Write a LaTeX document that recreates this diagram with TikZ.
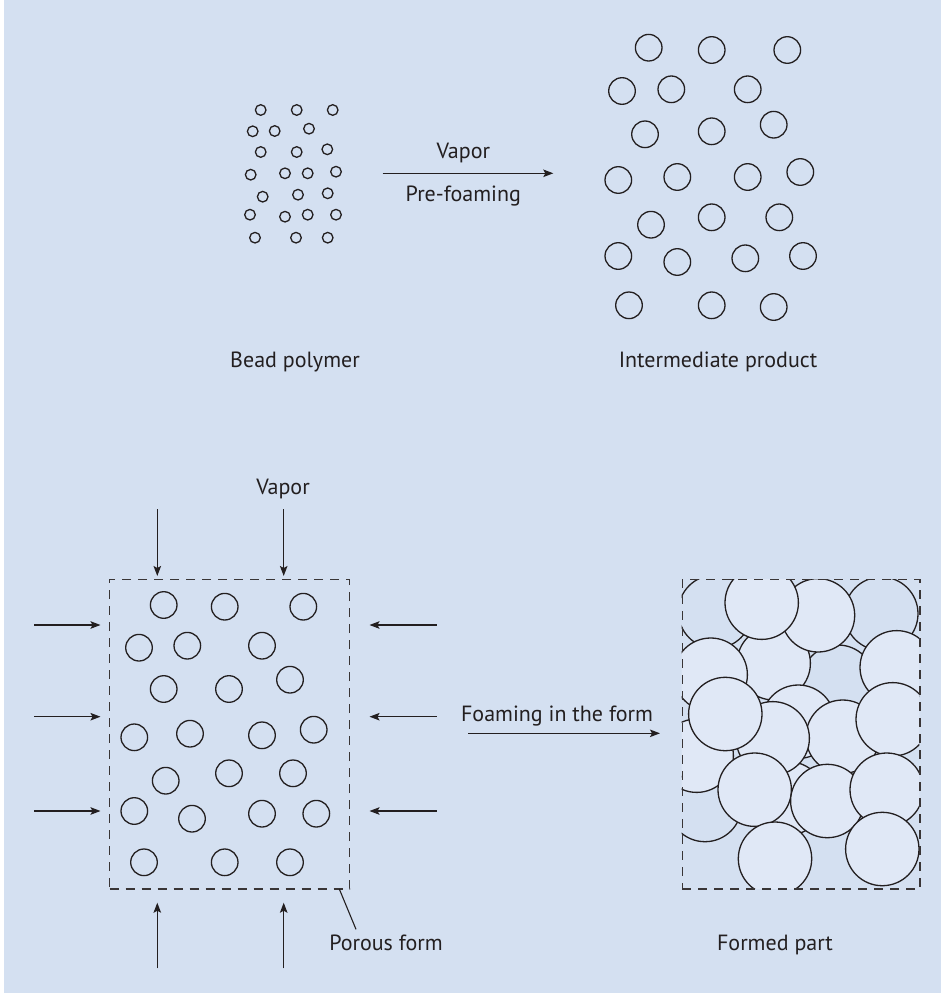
\documentclass[tikz,border=0pt]{standalone}
\usepackage{fontspec}
\setmainfont{PT Sans}
\usetikzlibrary{arrows.meta}
\definecolor{bg}{HTML}{D4E0F1}
\definecolor{lightc}{HTML}{E0E8F6}
\definecolor{ink}{HTML}{231F20}
\tikzset{
  bead/.style={draw=ink, line width=1.3bp},
  ball/.style={draw=ink, line width=1.3bp, fill=lightc},
  backball/.style={draw=ink, line width=1.3bp, fill=bg},
  flow/.style={draw=ink, line width=1.2bp, -{Stealth[length=10bp,width=7.5bp,inset=2bp]}},
  formbox/.style={draw=ink!90, line width=1.4bp, dash pattern=on 9bp off 7bp},
  lbl/.style={text=ink, font=\fontsize{22bp}{26bp}\selectfont, anchor=base, inner sep=0pt}
}
\begin{document}
\begin{tikzpicture}[x=1bp,y=-1bp]
\useasboundingbox (0,0) rectangle (941,993);
\fill[white] (0,0) rectangle (941,993);
\fill[bg] (4,0) rectangle (941,993);

% bead polymer
\foreach \x/\y in {260.7/110,296.7/110,332.7/110,
  252.7/131.3,274.7/131,309/128.7,
  260.7/152,296.7/152,327.3/149.3,
  250.7/174.7,285/173.3,307.7/173.3,336/171.7,
  262.7/196.7,298/194.7,327.7/193.3,
  250/214.7,285/216.7,307.7/214.7,336/214.7,
  255/237.7,296/237.7,327.7/237.7}
  \draw[bead] (\x,\y) circle[radius=5.3];

% intermediate product
\foreach \x/\y in {648.7/47.7,711.7/50,787.3/50,
  622/91,671.3/89.3,747.7/89.3,
  645/134.3,711.7/131.3,773.7/124.7,
  618.3/180,677.3/177,747.7/177,800.3/172,
  651/224.7,711.7/217.3,779.3/217.3,
  618.3/256,677.3/262,745.3/258.3,803/256,
  629/305.3,711.7/305.3,773.7/307}
  \draw[bead] (\x,\y) circle[radius=13.3];

% porous form contents
\foreach \x/\y in {163.7/605,224.7/606.7,303.3/606.7,
  139/647.7,187.3/645.7,262/645.7,
  163.7/689,229/689,290/679.7,
  134.3/737.3,190/733.7,262/735.3,313.7/729.7,
  165.7/780.7,229/773.3,293/773.3,
  134.3/811,192/818.7,262/813.7,316.3/813.7,
  144/862.3,224.7/862.3,290/862.3}
  \draw[bead] (\x,\y) circle[radius=13.3];
\node[formbox, rectangle, minimum width=240bp, minimum height=309.3bp, anchor=north west, inner sep=0pt] (porous) at (109,579) {};

% formed part
\begin{scope}
  \clip (681.7,579) rectangle (919.3,888.3);
  \foreach \x/\y in {715/611.7,881.3/613.7,838/681.7,705/805}
    \draw[backball] (\x,\y) circle[radius=36.7];
  \foreach \x/\y in {773.7/663.3,798.3/721.7,788.3/798.3,
    818/615.3,761.7/602.7,710.7/674.7,896.7/667.3,
    842.7/736.7,772.7/738.3,696.7/755.7,725.3/714,892.7/719.3,
    754.7/789.7,827.3/801,886.7/789.7,775/858.7,882.3/849}
    \draw[ball] (\x,\y) circle[radius=36.7];
\end{scope}
\node[formbox, rectangle, minimum width=237.6bp, minimum height=309.3bp, anchor=north west, inner sep=0pt] (formed) at (681.7,579) {};

% top arrow
\coordinate (a1s) at (382.7,173.3);
\coordinate (a1e) at (553.3,173.3);
\draw[flow] (a1s) -- (a1e);
\node[lbl] (vap1) at (463.3,158.3) {Vapor};
\node[lbl] (pre) at (463.3,201.3) {Pre-foaming};

\node[lbl] (bead) at (295,367.3) {Bead polymer};
\node[lbl] (inter) at (718,367.3) {Intermediate product};

% vapor arrows around porous form
\node[lbl] (vap2) at (283,494.3) {Vapor};
\foreach \i/\x in {1/157.3,2/283.7}{
  \coordinate (t\i) at (\x,509.3);
  \coordinate (tt\i) at (\x,576);
  \draw[flow] (t\i) -- (tt\i);
  \coordinate (b\i) at (\x,968.3);
  \coordinate (bt\i) at (\x,902.7);
  \draw[flow] (b\i) -- (bt\i);
}
\foreach \i/\y in {1/625,2/716.7,3/811}{
  \coordinate (l\i) at (34,\y);
  \coordinate (lt\i) at (100.5,\y);
  \draw[flow] (l\i) -- (lt\i);
  \coordinate (r\i) at (436.7,\y);
  \coordinate (rt\i) at (369.5,\y);
  \draw[flow] (r\i) -- (rt\i);
}

% foaming arrow
\coordinate (f1) at (468,733.3);
\coordinate (f2) at (660,733.3);
\draw[flow] (f1) -- (f2);
\node[lbl] (foam) at (557,721.7) {Foaming in the form};

% labels bottom
\coordinate (lead1) at (339.3,889);
\coordinate (lead2) at (356,929.3);
\draw[ink, line width=1.1bp] (lead1) -- (lead2);
\node[lbl] (plbl) at (386,950) {Porous form};
\node[lbl] (flbl) at (775,950) {Formed part};
\end{tikzpicture}
\end{document}
